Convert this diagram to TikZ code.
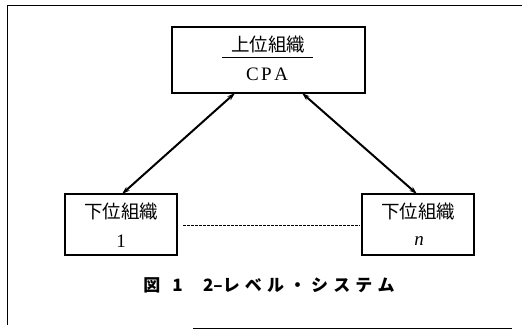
\documentclass[tikz,border=0pt]{standalone}
\usepackage{fontspec}
\newfontfamily\cjk{Noto Sans CJK JP}
\newfontfamily\ser{Liberation Serif}
\usetikzlibrary{arrows.meta}
\begin{document}
\begin{tikzpicture}[x=1pt,y=-1pt,
  box/.style={draw,line width=1.3pt,minimum width=#1,minimum height=61pt,inner sep=0pt},
  jp/.style={font=\cjk\fontsize{18.5}{18.5}\selectfont},
  lat/.style={font=\ser\fontsize{19}{19}\selectfont},
  link/.style={line width=2pt,{Stealth[length=8pt,width=5pt]}-{Stealth[length=8pt,width=5pt]}}]
\useasboundingbox (0,0) rectangle (530,330);
% frame
\draw[line width=0.8pt] (7,325) -- (7,5) -- (522,5);
\draw[line width=0.8pt] (193,328) -- (512,328);
% boxes
\node[box=193pt,minimum height=66pt] (top) at (268.5,60) {};
\node[box=112pt] (l) at (121,224.5) {};
\node[box=112pt] (r) at (418,224.5) {};
% texts
\node[jp,inner sep=0pt] (toplabel) at (268,45) {上位組織};
\draw[line width=1pt] (222,57) -- (313,57);
\node[lat,inner sep=0pt] (cpa) at (267,74) {C\hspace{2.5pt}P\hspace{2.5pt}A};
\node[jp,inner sep=0pt] (lt) at (121,212) {下位組織};
\node[lat,inner sep=0pt] (l1) at (121,241) {1};
\node[jp,inner sep=0pt] (rt) at (418,212) {下位組織};
\node[lat,inner sep=0pt] (rn) at (419,241) {\itshape n};
% connectors
\coordinate (ta) at (235,93);
\coordinate (tb) at (302,93);
\coordinate (la) at (122,194);
\coordinate (rb) at (417,194);
\draw[link] (ta) -- (la);
\draw[link] (tb) -- (rb);
\coordinate (d1) at (183,225);
\coordinate (d2) at (360,225);
\draw[dash pattern=on 2.5pt off 1.5pt,line width=0.9pt] (d1) -- (d2);
% caption
\node[inner sep=0pt,font=\cjk\bfseries\fontsize{17}{17}\selectfont] (cap) at (269,285) {図\hspace{0.7em}1\hspace{1.2em}2–レ\hspace{0.3em}ベ\hspace{0.3em}ル\hspace{0.3em}・\hspace{0.3em}シ\hspace{0.3em}ス\hspace{0.3em}テ\hspace{0.3em}ム};
\end{tikzpicture}
\end{document}
